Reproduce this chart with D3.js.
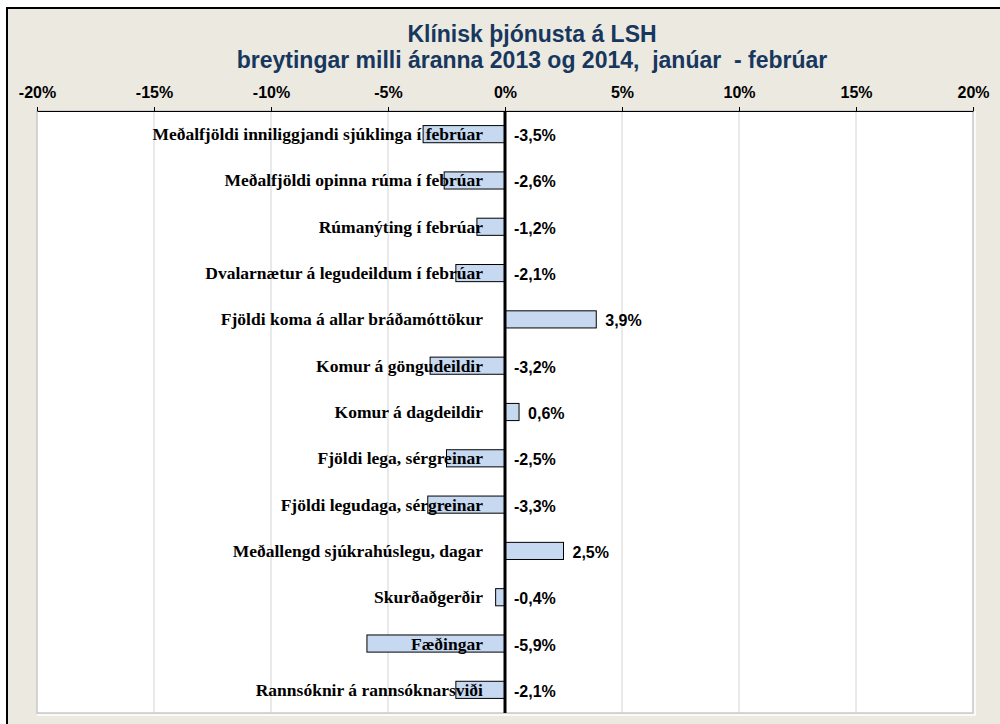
<!DOCTYPE html>
<html>
<head>
<meta charset="utf-8">
<script src="https://cdn.jsdelivr.net/npm/d3@7"></script>
<style>
  body { margin: 0; background: #fff; }
  svg { display: block; }
  .title { white-space: pre; }
</style>
</head>
<body>
<svg width="1000" height="724"></svg>
<script>
const categories = [
    "Meðalfjöldi inniliggjandi sjúklinga í febrúar",
    "Meðalfjöldi opinna rúma í febrúar",
    "Rúmanýting í febrúar",
    "Dvalarnætur á legudeildum í febrúar",
    "Fjöldi koma á allar bráðamóttökur",
    "Komur á göngudeildir",
    "Komur á dagdeildir",
    "Fjöldi lega, sérgreinar",
    "Fjöldi legudaga, sérgreinar",
    "Meðallengd sjúkrahúslegu, dagar",
    "Skurðaðgerðir",
    "Fæðingar",
    "Rannsóknir á rannsóknarsviði"
];
const values = [-3.5, -2.6, -1.2, -2.1, 3.9, -3.2, 0.6, -2.5, -3.3, 2.5, -0.4, -5.9, -2.1];
const tickValues = [-20, -15, -10, -5, 0, 5, 10, 15, 20];
const titleLines = [
    "Klínisk þjónusta á LSH",
    "breytingar milli áranna 2013 og 2014,  janúar  - febrúar"
];

const svg = d3.select("svg");
const plot = {left: 37, right: 973, top: 111, bottom: 713};

const fmt = v => v.toFixed(1).replace(".", ",") + "%";

// chart area background
svg.append("rect")
    .attr("x", 7).attr("y", 8)
    .attr("width", 1010).attr("height", 730)
    .attr("fill", "#ECE9E0")
    .attr("stroke", "#000")
    .attr("stroke-width", 2);

// title
svg.append("g").selectAll("text")
    .data(titleLines)
    .enter().append("text")
    .attr("class", "title")
    .attr("x", 532)
    .attr("y", (d, i) => 42 + i * 26)
    .attr("text-anchor", "middle")
    .attr("font-family", "Arial, 'Liberation Sans', sans-serif")
    .attr("font-weight", "bold")
    .attr("font-size", "23px")
    .attr("fill", "#17375E")
    .text(d => d);

const x = d3.scaleLinear()
    .domain([-20, 20])
    .range([plot.left, plot.right]);

const y = d3.scaleBand()
    .domain(categories)
    .range([plot.top, plot.bottom])
    .paddingInner(0.63)
    .paddingOuter(0.315);

// plot area with soft shadow edge
svg.append("rect")
    .attr("x", plot.left).attr("y", plot.top)
    .attr("width", plot.right - plot.left)
    .attr("height", plot.bottom - plot.top)
    .attr("fill", "#fff")
    .attr("stroke", "#C8C8C8")
    .attr("stroke-width", 1.5);
svg.append("path")
    .attr("d", `M${plot.left},${plot.bottom + 2}H${plot.right + 2}V${plot.top}`)
    .attr("fill", "none")
    .attr("stroke", "#fff")
    .attr("stroke-width", 1.5);

// gridlines
svg.append("g").selectAll("line")
    .data(tickValues.filter(d => d !== 0 && d !== -20))
    .enter().append("line")
    .attr("x1", d => x(d)).attr("x2", d => x(d))
    .attr("y1", plot.top).attr("y2", plot.bottom)
    .attr("stroke", "#D4D4D4")
    .attr("stroke-width", 1);

// bars
svg.append("g").selectAll("rect")
    .data(values)
    .enter().append("rect")
    .attr("x", d => x(Math.min(0, d)))
    .attr("y", (d, i) => y(categories[i]))
    .attr("width", d => Math.abs(x(d) - x(0)))
    .attr("height", y.bandwidth())
    .attr("fill", "#C6D9F1")
    .attr("stroke", "#000")
    .attr("stroke-width", 1);

// category labels (sit on top of the bars)
svg.append("g").selectAll("text")
    .data(categories)
    .enter().append("text")
    .attr("x", x(0) - 22)
    .attr("y", d => y(d) + y.bandwidth() / 2 + 6)
    .attr("text-anchor", "end")
    .attr("font-family", "'Times New Roman', 'Liberation Serif', serif")
    .attr("font-weight", "bold")
    .attr("font-size", "17.5px")
    .attr("fill", "#000")
    .text(d => d);

// value labels
svg.append("g").selectAll("text")
    .data(values)
    .enter().append("text")
    .attr("x", d => x(Math.max(0, d)) + 9)
    .attr("y", (d, i) => y(categories[i]) + y.bandwidth() / 2 + 7)
    .attr("font-family", "Arial, 'Liberation Sans', sans-serif")
    .attr("font-weight", "bold")
    .attr("font-size", "16px")
    .attr("fill", "#000")
    .text(d => fmt(d));

// zero line
svg.append("line")
    .attr("x1", x(0)).attr("x2", x(0))
    .attr("y1", plot.top).attr("y2", plot.bottom)
    .attr("stroke", "#000")
    .attr("stroke-width", 3);

// top axis
const axis = svg.append("g")
    .attr("transform", `translate(0,${plot.top})`)
    .call(d3.axisTop(x)
        .tickValues(tickValues)
        .tickFormat(d => d + "%")
        .tickSizeInner(4)
        .tickSizeOuter(0)
        .tickPadding(9));
axis.select(".domain").attr("stroke", "#000");
axis.selectAll(".tick line").attr("stroke", "#000");
axis.selectAll(".tick text")
    .attr("font-family", "Arial, 'Liberation Sans', sans-serif")
    .attr("font-weight", "bold")
    .attr("font-size", "16px")
    .attr("fill", "#000");
</script>
</body>
</html>
